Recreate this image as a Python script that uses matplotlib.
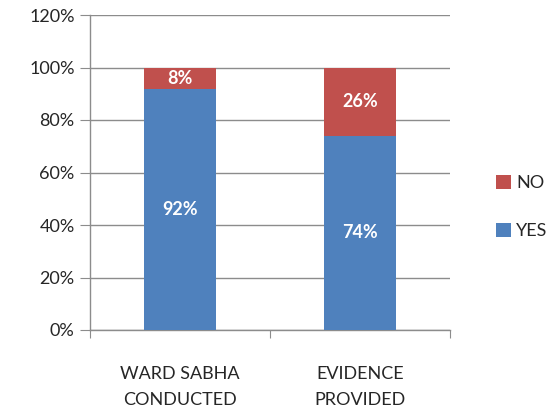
import matplotlib
matplotlib.use("Agg")
import matplotlib.pyplot as plt
from matplotlib.ticker import PercentFormatter
import numpy as np

categories = ["WARD SABHA\nCONDUCTED", "EVIDENCE\nPROVIDED"]
yes_vals = [92, 74]
no_vals = [8, 26]
yticks = [0, 20, 40, 60, 80, 100, 120]

plt.rcParams['font.family'] = ['Lato', 'DejaVu Sans']

fig = plt.figure(figsize=(5.57, 4.16), dpi=100)
ax = fig.add_axes([90/557, 1-330/416, 360/557, 315/416])

x = np.arange(len(categories))
blue = "#4F81BD"
red = "#C0504D"
b1 = ax.bar(x, yes_vals, width=0.4, color=blue, label="YES", zorder=3)
b2 = ax.bar(x, no_vals, width=0.4, bottom=yes_vals, color=red, label="NO", zorder=3)

for i in range(len(categories)):
    ax.text(x[i], yes_vals[i]/2, f"{yes_vals[i]}%", ha="center", va="center",
            color="white", fontsize=13, fontweight="bold", zorder=4)
    ax.text(x[i], yes_vals[i] + no_vals[i]/2, f"{no_vals[i]}%", ha="center", va="center",
            color="white", fontsize=13, fontweight="bold", zorder=4)

ax.set_xlim(-0.5, 1.5)
ax.set_ylim(0, 120)
ax.set_yticks(yticks)
ax.yaxis.set_major_formatter(PercentFormatter(decimals=0))
ax.grid(axis="y", color="#8C8C8C", linewidth=1, zorder=0)
ax.set_axisbelow(True)

ax.set_xticks([-0.5, 0.5, 1.5])
ax.set_xticklabels(["", "", ""])
ax.set_xticks(x, minor=True)
ax.set_xticklabels(categories, minor=True, fontsize=13, color="#262626", linespacing=1.75)
ax.tick_params(axis="x", which="minor", length=0, pad=26)
ax.tick_params(axis="x", which="major", length=6, color="#8C8C8C", direction="out")
ax.tick_params(axis="y", length=7, color="#8C8C8C", labelsize=13, labelcolor="#262626", pad=4)

for s in ["top", "right"]:
    ax.spines[s].set_visible(False)
for s in ["left", "bottom"]:
    ax.spines[s].set_color("#8C8C8C")
    ax.spines[s].set_linewidth(1)

handles = [b2, b1]
labels = ["NO", "YES"]
fig.legend(handles, labels, loc="center left", bbox_to_anchor=(480/557, 1-207/416),
           frameon=False, fontsize=13, handlelength=0.8, handleheight=0.8,
           handletextpad=0.3, labelspacing=1.75, labelcolor="#262626")

fig.savefig("out.png", dpi=100)
